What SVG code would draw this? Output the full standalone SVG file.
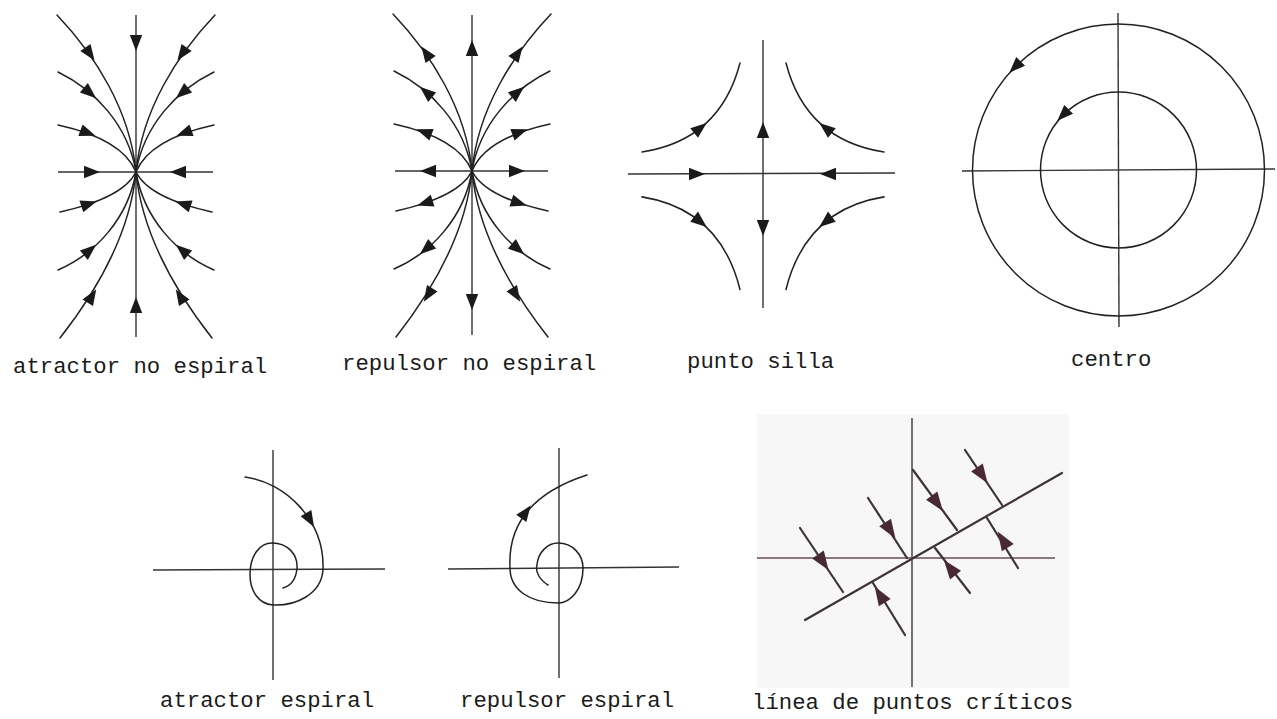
<svg xmlns="http://www.w3.org/2000/svg" xmlns:xlink="http://www.w3.org/1999/xlink" width="1277" height="719" viewBox="0 0 1277 719">
<style>
.ln{fill:none;stroke:#222;stroke-width:1.5;stroke-linecap:round}
.ax{fill:none;stroke:#333;stroke-width:1.4}
.ah{fill:#1a1a1a}
.lb{font-family:"Liberation Mono","Courier New",monospace;font-size:22.3px;fill:#1a1a1a}
.rl{fill:none;stroke:#3d3236;stroke-width:2.2;stroke-linecap:round}
.ra{fill:#4a2a32}
</style>
<defs>
<path id="ah" d="M8,0 L-8,-6.2 L-8,6.2 Z"/>
<path id="ah2" d="M10,0 L-9,-7 L-9,7 Z"/>
<g id="fanCurves">
<path class="ln" d="M-79,-157 C-41,-117 -6,-62 0,0"/>
<path class="ln" d="M-78,-100 C-41,-82 -8,-47 0,0"/>
<path class="ln" d="M-78,-47 C-46,-40 -11,-27 0,0"/>
<path class="ln" d="M-76,40 C-45,33 -11,22 0,0"/>
<path class="ln" d="M-78,98 C-41,82 -8,47 0,0"/>
<path class="ln" d="M-76,166 C-40,120 -6,62 0,0"/>
</g>
<g id="fanIn">
<use href="#fanCurves"/>
<use href="#ah" class="ah" transform="translate(-46,-118) rotate(55)"/>
<use href="#ah" class="ah" transform="translate(-46,-79) rotate(40)"/>
<use href="#ah" class="ah" transform="translate(-48,-39) rotate(20)"/>
<use href="#ah" class="ah" transform="translate(-47,32) rotate(-18)"/>
<use href="#ah" class="ah" transform="translate(-46,78) rotate(-40)"/>
<use href="#ah" class="ah" transform="translate(-44,124) rotate(-58)"/>
</g>
<g id="fanOut">
<use href="#fanCurves"/>
<use href="#ah" class="ah" transform="translate(-46,-118) rotate(235)"/>
<use href="#ah" class="ah" transform="translate(-46,-79) rotate(220)"/>
<use href="#ah" class="ah" transform="translate(-48,-39) rotate(200)"/>
<use href="#ah" class="ah" transform="translate(-47,32) rotate(162)"/>
<use href="#ah" class="ah" transform="translate(-46,78) rotate(140)"/>
<use href="#ah" class="ah" transform="translate(-44,124) rotate(122)"/>
</g>
<g id="quad">
<path class="ln" d="M-121,-22 Q-43,-34 -23,-111"/>
<use href="#ah" class="ah" transform="translate(-62.6,-46) rotate(-38.5)"/>
</g>
</defs>
<rect width="1277" height="719" fill="#ffffff"/>

<g id="atractor-no-espiral" transform="translate(136,172)">
<line class="ax" x1="0" y1="-157" x2="0" y2="165"/>
<line class="ax" x1="-78" y1="0" x2="77" y2="0"/>
<use href="#fanIn"/>
<use href="#fanIn" transform="scale(-1,1)"/>
<use href="#ah" class="ah" transform="translate(0,-129) rotate(90)"/>
<use href="#ah" class="ah" transform="translate(0,133) rotate(-90)"/>
<use href="#ah" class="ah" transform="translate(-44,0) rotate(0)"/>
<use href="#ah" class="ah" transform="translate(42,0) rotate(180)"/>
</g>

<g id="repulsor-no-espiral" transform="translate(472,171)">
<line class="ax" x1="0" y1="-156" x2="0" y2="164"/>
<line class="ax" x1="-77" y1="0" x2="76" y2="0"/>
<use href="#fanOut"/>
<use href="#fanOut" transform="scale(-1,1)"/>
<use href="#ah" class="ah" transform="translate(0,-123) rotate(-90)"/>
<use href="#ah" class="ah" transform="translate(0,131) rotate(90)"/>
<use href="#ah" class="ah" transform="translate(-44,0) rotate(180)"/>
<use href="#ah" class="ah" transform="translate(45,0) rotate(0)"/>
</g>

<g id="punto-silla" transform="translate(763,174)">
<line class="ax" x1="0" y1="-134" x2="0" y2="134"/>
<line class="ax" x1="-135" y1="0" x2="132" y2="-1"/>
<use href="#quad"/>
<use href="#quad" transform="scale(-1,1)"/>
<use href="#quad" transform="scale(1,-1.04)"/>
<use href="#quad" transform="scale(-1,-1.04)"/>
<use href="#ah" class="ah" transform="translate(0,-44) rotate(-90)"/>
<use href="#ah" class="ah" transform="translate(0,54) rotate(90)"/>
<use href="#ah" class="ah" transform="translate(-66,0) rotate(0)"/>
<use href="#ah" class="ah" transform="translate(65,0) rotate(180)"/>
</g>

<g id="centro">
<line class="ax" x1="1118" y1="13" x2="1119" y2="327"/>
<line class="ax" x1="962" y1="171" x2="1275" y2="169"/>
<circle class="ln" cx="1118.5" cy="170" r="146"/>
<circle class="ln" cx="1118.5" cy="170" r="78"/>
<use href="#ah" class="ah" transform="translate(1015,67) rotate(135)"/>
<use href="#ah" class="ah" transform="translate(1063,115) rotate(135)"/>
</g>

<g id="atractor-espiral">
<line class="ax" x1="273" y1="450" x2="273" y2="680"/>
<line class="ax" x1="153" y1="570" x2="385" y2="569"/>
<path class="ln" d="M245,477 C285,482 325,520 323,570 C321,595 295,606 273,605 C258,604 250,590 250,575 C250,555 260,543 272,543 C288,543 298,555 297,568 C296,580 290,586 283,588"/>
<use href="#ah" class="ah" transform="translate(310,520) rotate(60)"/>
</g>

<g id="repulsor-espiral">
<line class="ax" x1="559" y1="448" x2="559" y2="678"/>
<line class="ax" x1="448" y1="569" x2="679" y2="567"/>
<path class="ln" d="M548,585 C540,580 535,572 537,565 C538,552 548,543 558,543 C573,543 583,555 583,568 C583,590 570,603 558,603 C530,603 510,590 510,568 C508,530 525,495 587,475"/>
<use href="#ah" class="ah" transform="translate(526,512) rotate(-54)"/>
</g>

<g id="linea-de-puntos-criticos">
<rect x="757" y="414" width="312" height="274" fill="#f7f7f7"/>
<line x1="912" y1="418" x2="912" y2="687" stroke="#3a3a3a" stroke-width="1.4"/>
<line x1="757" y1="558" x2="1055" y2="558" stroke="#6a4e54" stroke-width="1.6"/>
<line class="rl" x1="805" y1="620" x2="1062" y2="473" stroke-width="2.6"/>
<line class="rl" x1="800" y1="528" x2="843" y2="592"/>
<line class="rl" x1="868" y1="498" x2="907" y2="558"/>
<line class="rl" x1="913" y1="470" x2="957" y2="530"/>
<line class="rl" x1="965" y1="450" x2="1002" y2="505"/>
<line class="rl" x1="873" y1="583" x2="905" y2="635"/>
<line class="rl" x1="935" y1="548" x2="970" y2="593"/>
<line class="rl" x1="987" y1="518" x2="1018" y2="568"/>
<use href="#ah2" class="ra" transform="translate(823,562) rotate(56)"/>
<use href="#ah2" class="ra" transform="translate(890,530) rotate(57)"/>
<use href="#ah2" class="ra" transform="translate(937,503) rotate(54)"/>
<use href="#ah2" class="ra" transform="translate(982,475) rotate(56)"/>
<use href="#ah2" class="ra" transform="translate(880,595) rotate(238)"/>
<use href="#ah2" class="ra" transform="translate(950,568) rotate(232)"/>
<use href="#ah2" class="ra" transform="translate(1003,540) rotate(238)"/>
</g>

<g id="labels">
<text class="lb" x="13" y="373">atractor no espiral</text>
<text class="lb" x="342" y="370">repulsor no espiral</text>
<text class="lb" x="687" y="368">punto silla</text>
<text class="lb" x="1071" y="366">centro</text>
<text class="lb" x="160" y="707">atractor espiral</text>
<text class="lb" x="460" y="707">repulsor espiral</text>
<text class="lb" x="752" y="709">línea de puntos críticos</text>
</g>
</svg>
